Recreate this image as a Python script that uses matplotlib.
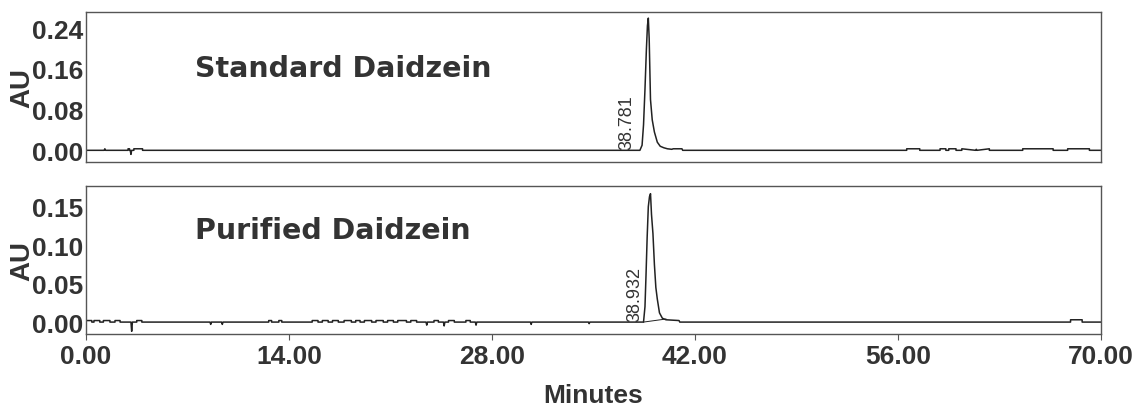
import matplotlib
matplotlib.use("Agg")
import matplotlib.pyplot as plt
from matplotlib import font_manager

# retention times reported by the integrator
std_rt = 38.781
pur_rt = 38.932

# Standard daidzein: main peak profile (minutes, AU)
std_peak_t = [38.20, 38.35, 38.45, 38.55, 38.65, 38.72, 38.781, 38.84, 38.93, 39.05,
              39.20, 39.40, 39.60, 39.85, 40.10, 40.40, 40.50, 41.10, 41.15]
std_peak_au = [0.0, 0.010, 0.050, 0.120, 0.200, 0.245, 0.260, 0.220, 0.100, 0.060,
               0.036, 0.016, 0.008, 0.005, 0.003, 0.002, 0.003, 0.003, 0.0]
# baseline steps (start, end, level) and spikes (time, AU)
std_steps = [(2.9, 3.0, 0.003), (3.3, 3.9, 0.003),
             (56.6, 57.5, 0.003), (58.9, 59.3, 0.003), (59.5, 60.0, 0.003),
             (60.4, 62.3, 0.003), (64.6, 66.7, 0.003), (67.7, 69.2, 0.003)]
std_spikes = [(1.3, 0.003), (3.1, -0.008), (61.4, 0.002)]

# Purified daidzein
pur_peak_t = [38.45, 38.55, 38.62, 38.70, 38.78, 38.86, 38.932, 39.00, 39.10, 39.20,
              39.30, 39.40, 39.55, 39.75, 40.00, 40.90, 40.95]
pur_peak_au = [0.0, 0.020, 0.060, 0.110, 0.150, 0.163, 0.167, 0.140, 0.115, 0.075,
               0.045, 0.030, 0.012, 0.005, 0.003, 0.002, 0.0]
pur_steps = [(0.0, 0.4, 0.002), (0.55, 0.95, 0.002), (1.2, 1.65, 0.002), (2.0, 2.35, 0.002),
             (3.5, 3.85, 0.002), (12.6, 12.8, 0.002), (13.3, 13.5, 0.002),
             (15.6, 16.0, 0.002), (16.3, 16.7, 0.002), (17.0, 17.4, 0.002), (17.8, 18.3, 0.002),
             (18.6, 18.9, 0.002), (19.2, 19.7, 0.002), (20.0, 20.5, 0.002), (20.8, 21.2, 0.002),
             (21.5, 22.1, 0.002), (22.4, 22.8, 0.002), (24.0, 24.3, 0.002), (25.0, 25.4, 0.002),
             (26.2, 26.5, 0.002), (67.9, 68.7, 0.003)]
pur_spikes = [(3.15, -0.012), (8.6, -0.003), (9.4, -0.003), (23.5, -0.004), (24.7, -0.005),
              (26.9, -0.004), (30.7, -0.003), (34.7, -0.002)]
# integration baseline under the purified peak
pur_base_t = [38.45, 40.0]
pur_base_au = [0.0, 0.004]

x_ticks = [0, 14, 28, 42, 56, 70]
std_yticks = [0.00, 0.08, 0.16, 0.24]
pur_yticks = [0.00, 0.05, 0.10, 0.15]


def build_trace(peak_t, peak_au, steps, spikes, t_end=70.0):
    pts = [(0.0, 0.0)]
    for s, e, lvl in steps:
        pts += [(s, 0.0), (s, lvl), (e, lvl), (e, 0.0)]
    for t, a in spikes:
        pts += [(t - 0.05, 0.0), (t, a), (t + 0.05, 0.0)]
    pts += list(zip(peak_t, peak_au))
    pts.append((t_end, 0.0))
    pts.sort(key=lambda p: p[0])
    return [p[0] for p in pts], [p[1] for p in pts]


names = [f.name for f in font_manager.fontManager.ttflist]
tick_font = "Liberation Sans Narrow" if "Liberation Sans Narrow" in names else "Liberation Sans"

fig = plt.figure(figsize=(11.36, 4.10), dpi=100)
ax1 = fig.add_axes([86 / 1136, 1 - 162.5 / 410, 1015 / 1136, 149.5 / 410])
ax2 = fig.add_axes([86 / 1136, 1 - 335 / 410, 1015 / 1136, 148 / 410])

panels = [
    (ax1, std_peak_t, std_peak_au, std_steps, std_spikes, std_rt, std_yticks,
     (-0.022, 0.272), "Standard Daidzein", 0.625, 1.45),
    (ax2, pur_peak_t, pur_peak_au, pur_steps, pur_spikes, pur_rt, pur_yticks,
     (-0.0155, 0.177), "Purified Daidzein", 0.705, 1.1),
]

for ax, pt, pa, st, sp, rt, yt, ylim, title, title_y, lab_off in panels:
    t, au = build_trace(pt, pa, st, sp)
    ax.plot(t, au, color="#222222", lw=1.1)
    ax.set_xlim(0, 70)
    ax.set_ylim(*ylim)
    ax.set_yticks(yt)
    ax.set_yticklabels([f"{v:.2f}" for v in yt], fontfamily=tick_font,
                       fontweight="bold", fontsize=19, color="#333333")
    ax.tick_params(axis="y", length=0, pad=2)
    ax.set_ylabel("AU", fontfamily="Liberation Sans", fontweight="bold",
                  fontsize=20, color="#333333")
    ax.yaxis.set_label_coords(-0.050, 0.5)
    for s in ax.spines.values():
        s.set_color("#555555")
        s.set_linewidth(1.0)
    ax.text(0.107, title_y, title, transform=ax.transAxes, fontfamily="DejaVu Sans",
            fontweight="bold", fontsize=20.5, color="#333333", va="center", ha="left")
    ax.text(rt - lab_off, 0.002, f"{rt:.3f}", rotation=90, ha="center", va="bottom",
            fontfamily="Liberation Sans", fontsize=13, color="#333333")

ax2.plot(pur_base_t, pur_base_au, color="#222222", lw=0.7)

ax1.set_xticks([])
ax2.set_xticks(x_ticks)
ax2.set_xticklabels([f"{v:.2f}" for v in x_ticks], fontfamily=tick_font,
                    fontweight="bold", fontsize=19, color="#333333")
ax2.tick_params(axis="x", length=4, pad=3, color="#555555", direction="out")
ax2.set_xlabel("Minutes", fontfamily=tick_font, fontweight="bold", fontsize=19,
               color="#333333", labelpad=11)

fig.savefig("out.png", dpi=100)
